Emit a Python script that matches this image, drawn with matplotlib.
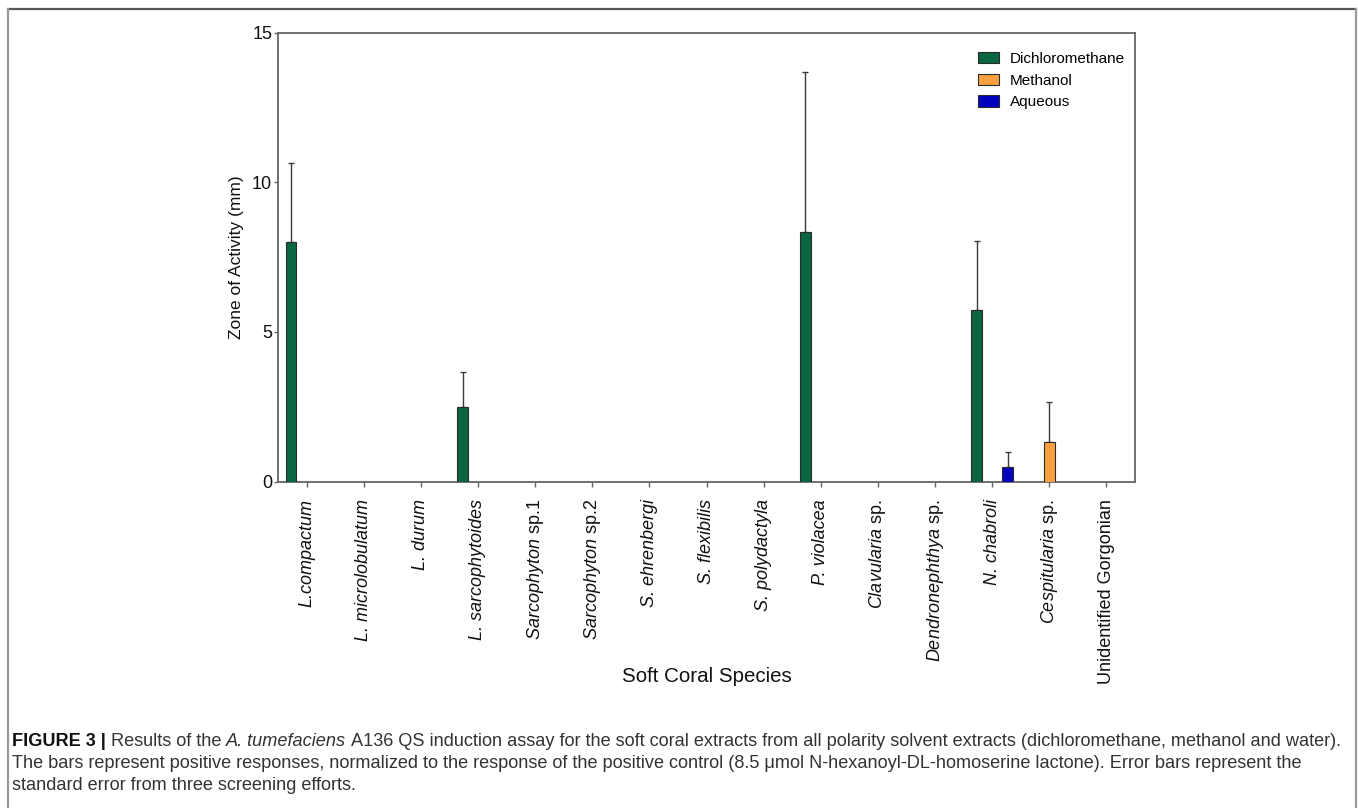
import matplotlib
matplotlib.use("Agg")
import matplotlib.pyplot as plt
from matplotlib import font_manager
from matplotlib.lines import Line2D
import numpy as np

# ---- data -------------------------------------------------------------
species = [
    "L.compactum", "L. microlobulatum", "L. durum", "L. sarcophytoides",
    "Sarcophyton sp.1", "Sarcophyton sp.2", "S. ehrenbergi", "S. flexibilis",
    "S. polydactyla", "P. violacea", "Clavularia sp.", "Dendronephthya sp.",
    "N. chabroli", "Cespitularia sp.", "Unidentified Gorgonian",
]
series_names = ["Dichloromethane", "Methanol", "Aqueous"]
dichloromethane = [8.0, 0, 0, 2.5, 0, 0, 0, 0, 0, 8.33, 0, 0, 5.73, 0, 0]
dichloromethane_err = [2.63, 0, 0, 1.16, 0, 0, 0, 0, 0, 5.36, 0, 0, 2.31, 0, 0]
methanol = [0, 0, 0, 0, 0, 0, 0, 0, 0, 0, 0, 0, 0, 1.33, 0]
methanol_err = [0, 0, 0, 0, 0, 0, 0, 0, 0, 0, 0, 0, 0, 1.33, 0]
aqueous = [0, 0, 0, 0, 0, 0, 0, 0, 0, 0, 0, 0, 0.5, 0, 0]
aqueous_err = [0, 0, 0, 0, 0, 0, 0, 0, 0, 0, 0, 0, 0.5, 0, 0]
y_ticks = [0, 5, 10, 15]

colors = ["#0a6641", "#ffa040", "#0000c0"]

# ---- fonts ------------------------------------------------------------
def has_font(name):
    try:
        font_manager.findfont(font_manager.FontProperties(family=name),
                              fallback_to_default=False)
        return True
    except Exception:
        return False

base_font = "Liberation Sans" if has_font("Liberation Sans") else "DejaVu Sans"

plt.rcParams["font.family"] = [base_font, "DejaVu Sans"]
plt.rcParams["mathtext.fontset"] = "custom"
plt.rcParams["mathtext.rm"] = base_font
plt.rcParams["mathtext.it"] = base_font + ":italic"
plt.rcParams["mathtext.bf"] = base_font + ":bold"


def species_label(name):
    """Genus/species in italics, 'sp.' suffixes upright, unnamed taxa upright."""
    if name.startswith("Unidentified"):
        return name, "normal"
    if " sp." in name:
        genus, rest = name.split(" ", 1)
        return r"$\mathit{" + genus + "}$ " + rest, "normal"
    return name, "italic"


W, H = 1358, 808
fig = plt.figure(figsize=(W / 100, H / 100), dpi=100)

# axes placed in pixel terms
ax_l, ax_r, ax_t, ax_b = 278, 1135, 32.6, 481.7
ax = fig.add_axes([ax_l / W, 1 - ax_b / H, (ax_r - ax_l) / W, (ax_b - ax_t) / H])

x = np.arange(len(species))
bar_w = 0.185
offsets = [-0.27, 0.0, 0.27]
all_vals = [dichloromethane, methanol, aqueous]
all_errs = [dichloromethane_err, methanol_err, aqueous_err]

for name, vals, errs, off, col in zip(series_names, all_vals, all_errs, offsets, colors):
    vals = np.asarray(vals, float)
    errs = np.asarray(errs, float)
    m = vals > 0
    ax.bar(x[m] + off, vals[m], width=bar_w, color=col, edgecolor="#2a2a2a",
           linewidth=0.8, label=name, zorder=3)
    ax.errorbar(x[m] + off, vals[m], yerr=[np.zeros(m.sum()), errs[m]],
                fmt="none", ecolor="#3a3a3a", elinewidth=1.0, capsize=2.3,
                capthick=1.0, zorder=2)

ax.set_xlim(-0.5, len(species) - 0.5)
ax.set_ylim(0, 15)
ax.set_yticks(y_ticks)
ax.set_xticks(x)
labels = [species_label(s) for s in species]
ax.set_xticklabels([l[0] for l in labels], rotation=90, fontsize=13, va="top", ha="center")
for tl, (_, style) in zip(ax.get_xticklabels(), labels):
    tl.set_fontstyle(style)
ax.tick_params(axis="x", direction="out", length=3.6, width=1.0, color="#666666",
               pad=9, labelcolor="#111111")
ax.tick_params(axis="y", direction="out", length=3.2, width=1.0, color="#666666",
               pad=1, labelsize=13, labelcolor="#111111")
for sp in ax.spines.values():
    sp.set_color("#666666")
    sp.set_linewidth(1.3)

ax.set_ylabel("Zone of Activity (mm)", fontsize=12.5, color="#111111", labelpad=6)
fig.text((ax_l + ax_r) / 2 / W, 1 - 677 / H, "Soft Coral Species", fontsize=14.8,
         ha="center", va="center", color="#111111")

leg = ax.legend(loc="upper left",
                bbox_to_anchor=((978 - ax_l) / (ax_r - ax_l), (ax_b - 52) / (ax_b - ax_t)),
                frameon=False, fontsize=11, handlelength=1.4, handleheight=0.75,
                handletextpad=0.7, labelspacing=0.5, borderpad=0, borderaxespad=0)

# ---- frame around the figure panel ------------------------------------
fig.add_artist(Line2D([7.5 / W, 1356 / W], [1 - 8.5 / H, 1 - 8.5 / H],
                      transform=fig.transFigure, color="#555555", linewidth=1.6))
fig.add_artist(Line2D([7.5 / W, 7.5 / W], [1 - 8.5 / H, 0], transform=fig.transFigure,
                      color="#999999", linewidth=1.6))
fig.add_artist(Line2D([1356 / W, 1356 / W], [1 - 8.5 / H, 0], transform=fig.transFigure,
                      color="#999999", linewidth=1.6))

# ---- caption with mixed styles ----------------------------------------
renderer = fig.canvas.get_renderer()
cap_size = 13.1
cap_color = "#333333"

def text_width(s, **kw):
    t = fig.text(0, 0, s, fontsize=cap_size, **kw)
    w = t.get_window_extent(renderer).width
    t.remove()
    return w

space_w = text_width("a a") - text_width("aa")

def draw_runs(x_px, y_px, runs):
    for s, style in runs:
        kw = {}
        col = cap_color
        if style == "b":
            kw["fontweight"] = "bold"
            col = "#111111"
        if style == "i":
            kw["fontstyle"] = "italic"
        t = fig.text(x_px / W, 1 - y_px / H, s, fontsize=cap_size, color=col,
                     ha="left", va="center", **kw)
        x_px += t.get_window_extent(renderer).width + space_w

caption_lines = [
    [("FIGURE 3 |", "b"), ("Results of the", "r"), ("A. tumefaciens", "i"),
     ("A136 QS induction assay for the soft coral extracts from all polarity solvent "
      "extracts (dichloromethane, methanol and water).", "r")],
    [("The bars represent positive responses, normalized to the response of the positive "
      "control (8.5 \u03bcmol N-hexanoyl-DL-homoserine lactone). Error bars represent the", "r")],
    [("standard error from three screening efforts.", "r")],
]
for line, y_px in zip(caption_lines, [741, 763, 785]):
    draw_runs(12, y_px, line)

fig.savefig("out.png", dpi=100)
